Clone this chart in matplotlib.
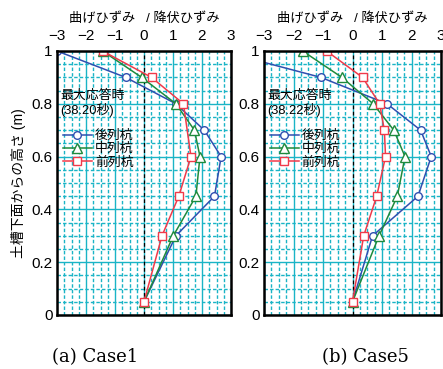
import matplotlib
matplotlib.use("Agg")
import matplotlib.pyplot as plt
from matplotlib.ticker import MultipleLocator

plt.rcParams['font.family'] = ['Liberation Sans', 'Noto Sans CJK JP']

height = [1.0, 0.9, 0.8, 0.7, 0.6, 0.45, 0.3, 0.05]
height_front = [1.0, 0.9, 0.8, 0.6, 0.45, 0.3, 0.05]

# Case1
c1_back = [-3.0, -0.63, 1.10, 2.08, 2.66, 2.43, 1.10, 0.0]
c1_mid = [-1.43, -0.08, 1.10, 1.74, 1.93, 1.79, 1.01, 0.0]
c1_front = [-1.43, 0.26, 1.36, 1.62, 1.20, 0.62, 0.0]

# Case5
c5_back = [-4.46, -1.07, 1.17, 2.31, 2.67, 2.22, 0.68, 0.0]
c5_mid = [-1.69, -0.36, 0.70, 1.40, 1.78, 1.52, 0.90, 0.0]
c5_front_h = [1.0, 0.9, 0.8, 0.7, 0.6, 0.45, 0.3, 0.05]
c5_front = [-0.88, 0.34, 0.92, 1.08, 1.12, 0.82, 0.38, 0.0]

labels = ['後列杭', '中列杭', '前列杭']
times = ['(38.20秒)', '(38.22秒)']
captions = ['(a) Case1', '(b) Case5']

fig = plt.figure(figsize=(4.43, 3.69), dpi=100)
ax1 = fig.add_axes([57/443, 1-315/369, 174/443, 264/369])
ax2 = fig.add_axes([264/443, 1-315/369, 177/443, 264/369])

grid_c = '#1ab4c6'
for ax, back, mid, fh, front, t in [
        (ax1, c1_back, c1_mid, height_front, c1_front, times[0]),
        (ax2, c5_back, c5_mid, c5_front_h, c5_front, times[1])]:
    ax.set_xlim(-3, 3)
    ax.set_ylim(0, 1)
    ax.xaxis.set_major_locator(MultipleLocator(1))
    ax.xaxis.set_minor_locator(MultipleLocator(0.25))
    ax.yaxis.set_major_locator(MultipleLocator(0.2))
    ax.yaxis.set_minor_locator(MultipleLocator(0.05))
    ax.set_yticks([0, 0.2, 0.4, 0.6, 0.8, 1])
    ax.set_yticklabels(['0', '0.2', '0.4', '0.6', '0.8', '1'])
    ax.grid(which='major', color=grid_c, lw=1.0, ls='-')
    ax.grid(which='minor', color=grid_c, lw=1.0, ls=(0, (2.5, 1.5)))
    ax.axvline(0, color='black', lw=0.9, ls=(0, (3, 2)))
    ax.xaxis.tick_top()
    ax.tick_params(which='both', length=0, labelsize=11)
    ax.tick_params(axis='x', pad=5.5)
    ax.tick_params(axis='y', pad=3)
    for s in ax.spines.values():
        s.set_linewidth(1.8)
    ax.plot(back, height, color='#2f4fb0', marker='o', mfc='white', ms=5.5, lw=1.1, label=labels[0])
    ax.plot(mid, height, color='#1e8a3c', marker='^', mfc='white', ms=6.5, lw=1.1, label=labels[1])
    ax.plot(front, fh, color='#f03a4a', marker='s', mfc='white', ms=6, lw=1.1, label=labels[2])
    ax.text(0.5, 1 + 33/264, '曲げひずみ   / 降伏ひずみ', transform=ax.transAxes, fontsize=9.5,
            ha='center', va='center')
    ax.text(0.02, 0.832, '最大応答時', transform=ax.transAxes, fontsize=9.3, va='center')
    ax.text(0.02, 0.775, t, transform=ax.transAxes, fontsize=9.3, va='center')
    ax.legend(loc='upper left', bbox_to_anchor=(-0.02, 0.735), frameon=False, fontsize=9.3,
              handlelength=2.3, handletextpad=0.2, labelspacing=0.1, borderpad=0.2)

fig.text(95/443, 1-357/369, captions[0], fontsize=13, ha='center', va='center', family='DejaVu Serif')
fig.text(365/443, 1-357/369, captions[1], fontsize=13, ha='center', va='center', family='DejaVu Serif')

ax1.set_ylabel('土槽下面からの高さ (m)', fontsize=10, labelpad=4)

fig.savefig('out.png', dpi=100)
